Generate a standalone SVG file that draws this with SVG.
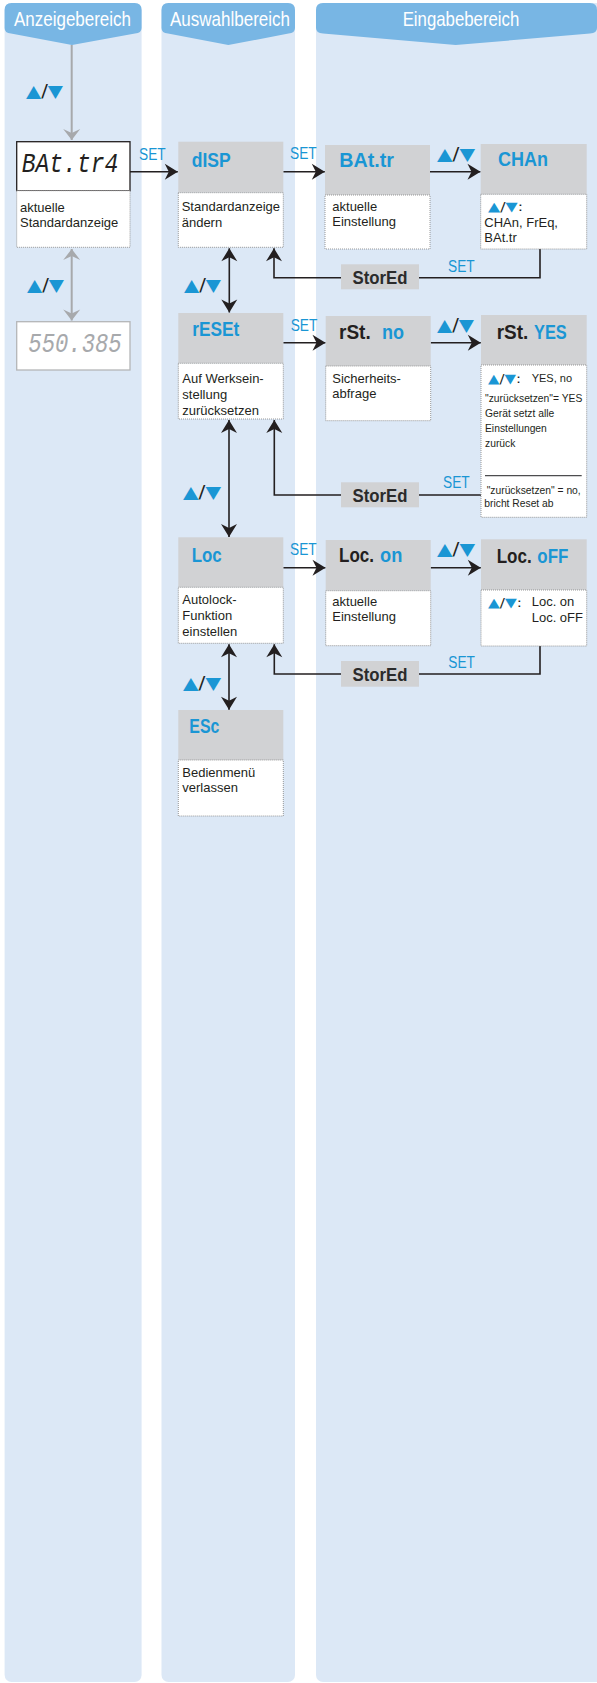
<svg xmlns="http://www.w3.org/2000/svg" width="597" height="1683" viewBox="0 0 597 1683">
<style>
.col{fill:#dce8f6}
.band{fill:#78b6e4}
.htx{font-family:"Liberation Sans",sans-serif;font-size:21px;fill:#fff;text-anchor:middle}
.hd{fill:#d1d2d4}
.ds{fill:#fff;stroke:#8c8c8c;stroke-width:0.9;stroke-dasharray:1 1}
.ttl{font-family:"Liberation Sans",sans-serif;font-weight:bold;font-size:21px;fill:#1a96d4}
.dk{fill:#231f20}
.dt{font-family:"Liberation Sans",sans-serif;font-size:13px;fill:#231f20}
.dts{font-family:"Liberation Sans",sans-serif;font-size:10.3px;fill:#231f20}
.set{font-family:"Liberation Sans",sans-serif;font-size:16px;fill:#1a96d4}
.st{fill:#d1d2d4}
.stt{font-family:"Liberation Sans",sans-serif;font-weight:bold;font-size:19px;fill:#2b2b2b;text-anchor:middle}
.ud{font-family:"DejaVu Sans",sans-serif;font-size:17px;fill:#1a96d4}
.uds{font-family:"DejaVu Sans",sans-serif;font-size:13px;fill:#1a96d4}
.sl{fill:#231f20}
.seg{font-family:"Liberation Mono",monospace;font-style:italic;font-size:28px}
</style>
<defs>
<marker id="ah" viewBox="-14 -10 16 20" refX="0" refY="0" markerWidth="16" markerHeight="20" markerUnits="userSpaceOnUse" orient="auto-start-reverse"><path d="M0,0 L-13,-8 L-9,0 L-13,8 Z" fill="#231f20"/></marker>
<marker id="ahg" viewBox="-14 -10 16 20" refX="0" refY="0" markerWidth="16" markerHeight="20" markerUnits="userSpaceOnUse" orient="auto-start-reverse"><path d="M0,0 L-11,-8.5 L-7,0 L-11,8.5 Z" fill="#a7a9ac"/></marker>
</defs>

<g id="columns">
<rect class="col" x="4.6" y="3" width="137" height="1679" rx="7"/>
<rect class="col" x="161.5" y="3" width="133.5" height="1679" rx="7"/>
<rect class="col" x="316" y="3" width="290" height="1679" rx="7"/>
<path class="band" d="M4.6,28 Q4.6,33 11,33.6 L72,45 L135,33.6 Q141.6,33 141.6,28 L141.6,10 Q141.6,3 134.6,3 L11.6,3 Q4.6,3 4.6,10 Z"/>
<path class="band" d="M161.5,28 Q161.5,33 168,33.6 L228.3,45 L288.5,33.6 Q295,33 295,28 L295,10 Q295,3 288,3 L168.5,3 Q161.5,3 161.5,10 Z"/>
<path class="band" d="M316,28 Q316,33 323,33.6 L455.7,45 L590,33.6 Q597,33 597,28 L597,10 Q597,3 590,3 L323,3 Q316,3 316,10 Z"/>
<text class="htx" x="72.5" y="25.5" textLength="117" lengthAdjust="spacingAndGlyphs">Anzeigebereich</text>
<text class="htx" x="230" y="25.5" textLength="120" lengthAdjust="spacingAndGlyphs">Auswahlbereich</text>
<text class="htx" x="461" y="25.5" textLength="116.7" lengthAdjust="spacingAndGlyphs">Eingabebereich</text>
</g>

<g id="connectors" fill="none" stroke="#231f20" stroke-width="1.6">
<line x1="71.7" y1="45" x2="71.7" y2="140" stroke="#a7a9ac" stroke-width="2" marker-end="url(#ahg)"/>
<line x1="71.7" y1="249" x2="71.7" y2="320.5" stroke="#a7a9ac" stroke-width="2" marker-start="url(#ahg)" marker-end="url(#ahg)"/>
<line x1="130" y1="171.7" x2="177.8" y2="171.7" marker-end="url(#ah)"/>
<line x1="283.3" y1="171.7" x2="324.8" y2="171.7" marker-end="url(#ah)"/>
<line x1="430" y1="171.7" x2="480.5" y2="171.7" marker-end="url(#ah)"/>
<polyline points="540,249 540,277.7 274,277.7 274,248.3" marker-end="url(#ah)"/>
<line x1="229.3" y1="248.3" x2="229.3" y2="312.5" marker-start="url(#ah)" marker-end="url(#ah)"/>
<line x1="283.3" y1="342.7" x2="325.5" y2="342.7" marker-end="url(#ah)"/>
<line x1="430.7" y1="342.7" x2="480.8" y2="342.7" marker-end="url(#ah)"/>
<polyline points="481,495 274.3,495 274.3,420" marker-end="url(#ah)"/>
<line x1="229" y1="420" x2="229" y2="537" marker-start="url(#ah)" marker-end="url(#ah)"/>
<line x1="283.3" y1="567.7" x2="325.5" y2="567.7" marker-end="url(#ah)"/>
<line x1="430.7" y1="567.7" x2="480.8" y2="567.7" marker-end="url(#ah)"/>
<polyline points="540,646 540,674 274.3,674 274.3,644.3" marker-end="url(#ah)"/>
<line x1="229" y1="644.3" x2="229" y2="709.7" marker-start="url(#ah)" marker-end="url(#ah)"/>
</g>

<g id="labels">
<text class="ud" x="26" y="97" textLength="37" lengthAdjust="spacingAndGlyphs">▲<tspan class="sl">/</tspan>▼</text>
<text class="ud" x="27" y="291" textLength="37" lengthAdjust="spacingAndGlyphs">▲<tspan class="sl">/</tspan>▼</text>
<text class="ud" x="184" y="291" textLength="37" lengthAdjust="spacingAndGlyphs">▲<tspan class="sl">/</tspan>▼</text>
<text class="ud" x="437" y="160" textLength="38" lengthAdjust="spacingAndGlyphs">▲<tspan class="sl">/</tspan>▼</text>
<text class="ud" x="437" y="331" textLength="37" lengthAdjust="spacingAndGlyphs">▲<tspan class="sl">/</tspan>▼</text>
<text class="ud" x="183" y="498" textLength="38" lengthAdjust="spacingAndGlyphs">▲<tspan class="sl">/</tspan>▼</text>
<text class="ud" x="437" y="555" textLength="38" lengthAdjust="spacingAndGlyphs">▲<tspan class="sl">/</tspan>▼</text>
<text class="ud" x="183" y="689" textLength="38" lengthAdjust="spacingAndGlyphs">▲<tspan class="sl">/</tspan>▼</text>
<text class="set" x="139" y="160" textLength="26.7" lengthAdjust="spacingAndGlyphs">SET</text>
<text class="set" x="290" y="159" textLength="26.7" lengthAdjust="spacingAndGlyphs">SET</text>
<text class="set" x="448" y="271.7" textLength="26.7" lengthAdjust="spacingAndGlyphs">SET</text>
<text class="set" x="290.7" y="330.7" textLength="26.7" lengthAdjust="spacingAndGlyphs">SET</text>
<text class="set" x="443" y="488.3" textLength="26.7" lengthAdjust="spacingAndGlyphs">SET</text>
<text class="set" x="290" y="555" textLength="26.7" lengthAdjust="spacingAndGlyphs">SET</text>
<text class="set" x="448.3" y="667.7" textLength="26.7" lengthAdjust="spacingAndGlyphs">SET</text>
</g>

<g id="node-display">
<rect x="16.7" y="141.7" width="113.3" height="49" fill="#fff" stroke="#231f20" stroke-width="1.3"/>
<text class="seg" x="21.7" y="171.7" fill="#231f20" textLength="96.6" lengthAdjust="spacingAndGlyphs">BAt.tr4</text>
<rect class="ds" x="16.7" y="190.7" width="113.3" height="56.6"/>
<text class="dt" x="20" y="211.7">aktuelle</text>
<text class="dt" x="20" y="227">Standardanzeige</text>
</g>

<g id="node-display2">
<rect x="16.7" y="321.7" width="113.3" height="48.3" fill="#fff" stroke="#b4b5b7" stroke-width="1.3"/>
<text class="seg" x="28.3" y="351.7" fill="#a7a9ac" textLength="93.4" lengthAdjust="spacingAndGlyphs">550.385</text>
</g>

<g id="node-disp">
<rect class="hd" x="178.3" y="141.7" width="105" height="51"/>
<rect class="ds" x="178.3" y="192.7" width="105" height="54.6"/>
<text class="ttl" x="191.7" y="166.7" textLength="39" lengthAdjust="spacingAndGlyphs">dISP</text>
<text class="dt" x="181.7" y="211">Standardanzeige</text>
<text class="dt" x="181.7" y="226.7">ändern</text>
</g>

<g id="node-batr">
<rect class="hd" x="325" y="145" width="105" height="50"/>
<rect class="ds" x="325" y="195" width="105" height="54"/>
<text class="ttl" x="339.3" y="167.3" textLength="54.7" lengthAdjust="spacingAndGlyphs">BAt.tr</text>
<text class="dt" x="332.3" y="211">aktuelle</text>
<text class="dt" x="332.3" y="226">Einstellung</text>
</g>

<g id="node-chan">
<rect class="hd" x="480.7" y="144" width="106" height="50.3"/>
<rect class="ds" x="480.7" y="194.3" width="106" height="54.7"/>
<text class="ttl" x="498" y="166" textLength="50" lengthAdjust="spacingAndGlyphs">CHAn</text>
<text class="uds" x="488" y="211" textLength="35" lengthAdjust="spacingAndGlyphs">▲<tspan class="sl">/</tspan>▼<tspan class="sl">:</tspan></text>
<text class="dt" x="484.3" y="226.7">CHAn, FrEq,</text>
<text class="dt" x="484.3" y="241.7">BAt.tr</text>
</g>

<g id="node-stored1">
<rect class="st" x="341" y="264.3" width="78" height="25"/>
<text class="stt" x="380" y="284" textLength="55" lengthAdjust="spacingAndGlyphs">StorEd</text>
</g>

<g id="node-reset">
<rect class="hd" x="178.3" y="313" width="105" height="50.3"/>
<rect class="ds" x="178.3" y="363.3" width="105" height="55.7"/>
<text class="ttl" x="192.3" y="336" textLength="47" lengthAdjust="spacingAndGlyphs">rESEt</text>
<text class="dt" x="182.3" y="383">Auf Werksein-</text>
<text class="dt" x="182.3" y="399">stellung</text>
<text class="dt" x="182.3" y="414.5">zurücksetzen</text>
</g>

<g id="node-rstno">
<rect class="hd" x="325.7" y="316" width="105" height="50"/>
<rect class="ds" x="325.7" y="366" width="105" height="54.7"/>
<text class="ttl" x="339" y="339"><tspan class="dk" textLength="31.7" lengthAdjust="spacingAndGlyphs">rSt.</tspan><tspan x="382" textLength="22" lengthAdjust="spacingAndGlyphs">no</tspan></text>
<text class="dt" x="332.3" y="383.3">Sicherheits-</text>
<text class="dt" x="332.3" y="398.3">abfrage</text>
</g>

<g id="node-rstyes">
<rect class="hd" x="481" y="315" width="105.7" height="50"/>
<rect class="ds" x="481" y="365" width="105.7" height="152.3"/>
<text class="ttl" x="496.7" y="339"><tspan class="dk" textLength="31.7" lengthAdjust="spacingAndGlyphs">rSt.</tspan><tspan x="534" textLength="32.7" lengthAdjust="spacingAndGlyphs">YES</tspan></text>
<text class="uds" x="488" y="382.5" textLength="33" lengthAdjust="spacingAndGlyphs">▲<tspan class="sl">/</tspan>▼<tspan class="sl">:</tspan></text>
<text class="dts" x="531.7" y="382" style="font-size:11px">YES, no</text>
<text class="dts" x="485" y="401.7">"zurücksetzen"= YES</text>
<text class="dts" x="485" y="416.7">Gerät setzt alle</text>
<text class="dts" x="485" y="431.7">Einstellungen</text>
<text class="dts" x="485" y="447.3">zurück</text>
<line x1="485" y1="475.7" x2="581.7" y2="475.7" stroke="#4d4d4f" stroke-width="1.3"/>
<text class="dts" x="486.7" y="494">"zurücksetzen" = no,</text>
<text class="dts" x="484.3" y="507.3">bricht Reset ab</text>
</g>

<g id="node-stored2">
<rect class="st" x="341" y="482.3" width="78" height="25"/>
<text class="stt" x="380" y="502" textLength="55" lengthAdjust="spacingAndGlyphs">StorEd</text>
</g>

<g id="node-loc">
<rect class="hd" x="178.3" y="537.3" width="105" height="50"/>
<rect class="ds" x="178.3" y="587.3" width="105" height="56"/>
<text class="ttl" x="191.7" y="561.7" textLength="30" lengthAdjust="spacingAndGlyphs">Loc</text>
<text class="dt" x="182.3" y="604">Autolock-</text>
<text class="dt" x="182.3" y="620">Funktion</text>
<text class="dt" x="182.3" y="635.7">einstellen</text>
</g>

<g id="node-locon">
<rect class="hd" x="325.7" y="540" width="105" height="50.7"/>
<rect class="ds" x="325.7" y="590.7" width="105" height="55"/>
<text class="ttl" x="339" y="562.3"><tspan class="dk" textLength="35" lengthAdjust="spacingAndGlyphs">Loc.</tspan><tspan x="380" textLength="22.3" lengthAdjust="spacingAndGlyphs">on</tspan></text>
<text class="dt" x="332.3" y="605.7">aktuelle</text>
<text class="dt" x="332.3" y="621">Einstellung</text>
</g>

<g id="node-locoff">
<rect class="hd" x="481" y="539.3" width="105.7" height="50.7"/>
<rect class="ds" x="481" y="590" width="105.7" height="56"/>
<text class="ttl" x="496.7" y="562.7"><tspan class="dk" textLength="35" lengthAdjust="spacingAndGlyphs">Loc.</tspan><tspan x="537.3" textLength="31" lengthAdjust="spacingAndGlyphs">oFF</tspan></text>
<text class="uds" x="488" y="606.5" textLength="34" lengthAdjust="spacingAndGlyphs">▲<tspan class="sl">/</tspan>▼<tspan class="sl">:</tspan></text>
<text class="dt" x="531.7" y="606">Loc. on</text>
<text class="dt" x="531.7" y="621.7">Loc. oFF</text>
</g>

<g id="node-stored3">
<rect class="st" x="341" y="661" width="78" height="25.7"/>
<text class="stt" x="380" y="681" textLength="55" lengthAdjust="spacingAndGlyphs">StorEd</text>
</g>

<g id="node-esc">
<rect class="hd" x="178.3" y="710" width="105" height="50"/>
<rect class="ds" x="178.3" y="760" width="105" height="56"/>
<text class="ttl" x="189.3" y="733.3" textLength="30" lengthAdjust="spacingAndGlyphs">ESc</text>
<text class="dt" x="182.3" y="777.3">Bedienmenü</text>
<text class="dt" x="182.3" y="792.3">verlassen</text>
</g>
</svg>
